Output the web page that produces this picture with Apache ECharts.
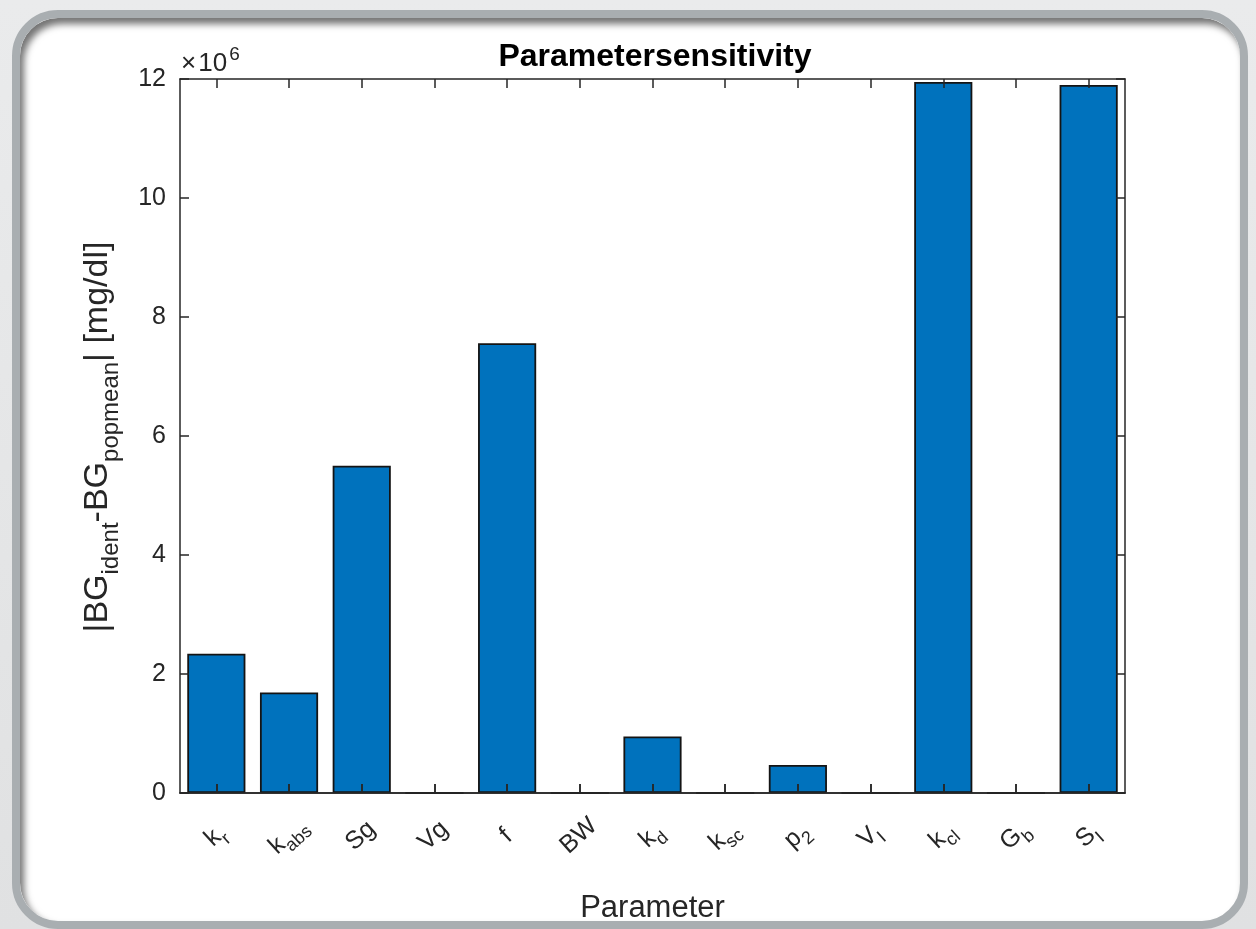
<!DOCTYPE html>
<html>
<head>
<meta charset="utf-8">
<title>Parametersensitivity</title>
<script src="https://cdn.jsdelivr.net/npm/echarts@6/dist/echarts.min.js"></script>
<style>
  html, body { margin: 0; padding: 0; width: 1256px; height: 929px; overflow: hidden;
    background: linear-gradient(#eaebec, #e0e1e2); }
  #frame { position: absolute; left: 12px; top: 10px; width: 1220px; height: 903px;
    border: 8px solid #a9aeb1; border-radius: 46px; background: #ffffff;
    box-shadow: inset 4px 6px 7px rgba(0,0,0,0.55); }
  #chart { position: absolute; left: 0; top: 0; width: 1256px; height: 929px; }
</style>
</head>
<body>
<div id="frame"></div>
<div id="chart"></div>
<script>
// Parameter names (TeX-like: part after "_" is a subscript)
const categories = ['k_r', 'k_abs', 'Sg', 'Vg', 'f', 'BW', 'k_d', 'k_sc', 'p_2', 'V_I', 'k_cl', 'G_b', 'S_I'];
// |BG_ident - BG_popmean| per parameter, in units of 10^6 mg/dl
const sensitivity = [2.34, 1.69, 5.50, 0, 7.56, 0, 0.95, 0, 0.47, 0, 11.95, 0, 11.90];
// y-axis tick values (×10^6)
const yTicks = [0, 2, 4, 6, 8, 10, 12];

const AXIS = '#262626';
const FONT = 'Liberation Sans, Arial, Helvetica, sans-serif';

function texLabel(name) {
  const i = name.indexOf('_');
  if (i < 0) return '{m|' + name + '}';
  return '{m|' + name.slice(0, i) + '}{s|' + name.slice(i + 1) + '}';
}

const tickRich = {
  m: { fontSize: 25, lineHeight: 28, verticalAlign: 'top', color: AXIS, fontFamily: FONT },
  s: { fontSize: 18, lineHeight: 20, padding: [13, 0, 0, 0], verticalAlign: 'top', color: AXIS, fontFamily: FONT }
};

const tickStyle = { color: AXIS, width: 1.5 };

// plain box edge carrying only inward ticks
function edgeAxis(position) {
  return {
    type: 'category', data: categories, position: position, z: 6,
    axisLine: { show: true, onZero: false, lineStyle: tickStyle },
    axisTick: { show: true, inside: true, alignWithLabel: true, interval: 0, length: 9, lineStyle: tickStyle },
    axisLabel: { show: false },
    splitLine: { show: false }
  };
}

const chart = echarts.init(document.getElementById('chart'), null, { renderer: 'canvas' });

chart.setOption({
  backgroundColor: 'transparent',
  animation: false,
  title: {
    text: 'Parametersensitivity',
    left: 650, top: 36, textAlign: 'center',
    textStyle: { fontSize: 32, fontWeight: 'bold', color: '#000', fontFamily: FONT }
  },
  grid: { left: 180, right: 131, top: 79, bottom: 134 },
  xAxis: [{
    type: 'category', data: categories, position: 'bottom', z: 5,
    name: 'Parameter', nameLocation: 'middle', nameGap: 100,
    nameTextStyle: { fontSize: 31, color: AXIS, fontFamily: FONT },
    axisLine: { onZero: false, lineStyle: tickStyle },
    axisTick: { show: true, inside: true, alignWithLabel: true, interval: 0, length: 9, lineStyle: tickStyle },
    axisLabel: {
      rotate: 42, align: 'center', verticalAlign: 'middle', margin: 44, interval: 0,
      formatter: texLabel, rich: tickRich
    },
    splitLine: { show: false }
  }, edgeAxis('top'), edgeAxis('bottom')],
  yAxis: [{
    type: 'value', min: yTicks[0], max: yTicks[yTicks.length - 1], interval: yTicks[1] - yTicks[0],
    position: 'left', z: 5,
    axisLine: { show: true, onZero: false, lineStyle: tickStyle },
    axisTick: { show: true, inside: true, length: 9, lineStyle: tickStyle },
    axisLabel: { fontSize: 25, color: AXIS, fontFamily: FONT, margin: 14, padding: [5, 0, 0, 0] },
    splitLine: { show: false }
  }, {
    // box right edge
    type: 'value', min: yTicks[0], max: yTicks[yTicks.length - 1], interval: yTicks[1] - yTicks[0],
    position: 'right', z: 5,
    axisLine: { show: true, onZero: false, lineStyle: tickStyle },
    axisTick: { show: true, inside: true, length: 9, lineStyle: tickStyle },
    axisLabel: { show: false },
    splitLine: { show: false }
  }],
  series: [{
    type: 'bar', data: sensitivity, xAxisIndex: 0, yAxisIndex: 0, z: 2,
    barWidth: '80%',
    itemStyle: { color: '#0072BD', borderColor: '#141414', borderWidth: 1.8 }
  }],
  graphic: [{
    // axis exponent
    type: 'text', left: 181, top: 45, z: 10,
    style: {
      text: '{m|×\u200a10}{p|6}',
      rich: {
        m: { fontSize: 26, lineHeight: 30, padding: [6, 0, 0, 0], verticalAlign: 'top', fill: AXIS, fontFamily: FONT },
        p: { fontSize: 19, lineHeight: 20, padding: [0, 0, 0, 2], verticalAlign: 'top', fill: AXIS, fontFamily: FONT }
      }
    }
  }, {
    // y-axis title
    type: 'text', x: 100, y: 437, rotation: Math.PI / 2, z: 10,
    style: {
      text: '{m||BG}{s|ident}{m|-BG}{s|popmean}{m|| [mg/dl]}',
      align: 'center', verticalAlign: 'middle',
      rich: {
        m: { fontSize: 34, lineHeight: 38, verticalAlign: 'top', fill: AXIS, fontFamily: FONT },
        s: { fontSize: 24, lineHeight: 26, padding: [18, 0, 0, 0], verticalAlign: 'top', fill: AXIS, fontFamily: FONT }
      }
    }
  }]
});
</script>
</body>
</html>
